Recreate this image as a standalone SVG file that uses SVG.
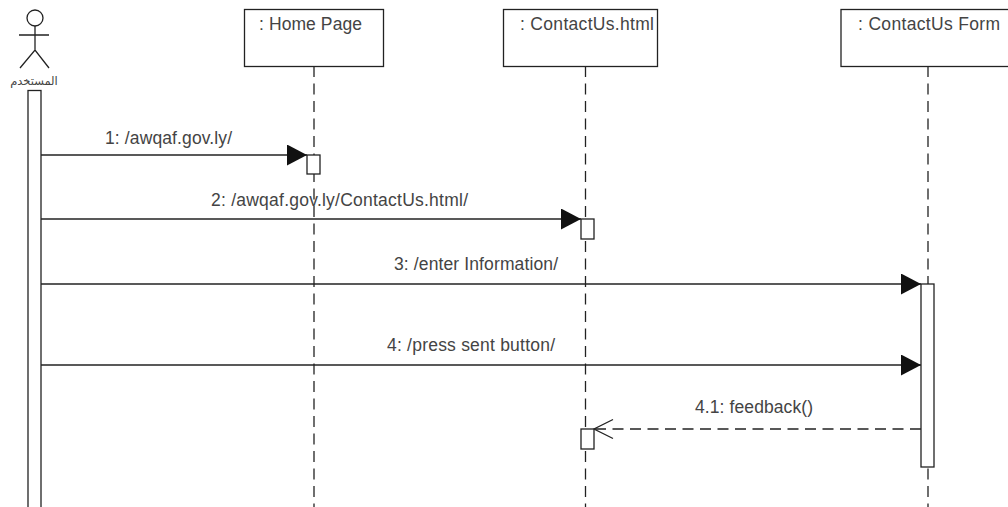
<svg xmlns="http://www.w3.org/2000/svg" width="1008" height="507" viewBox="0 0 1008 507">
<style>
text{font-family:"Liberation Sans",Arial,sans-serif;font-size:17.500px;fill:#444;text-anchor:middle}
.b{fill:#fff;stroke:#222;stroke-width:1.3}
.l{fill:none;stroke:#222;stroke-width:1.3}
.d{fill:none;stroke:#222;stroke-width:1.3;stroke-dasharray:11 6.5}
</style>
<defs>
<marker id="f" markerUnits="userSpaceOnUse" markerWidth="21" markerHeight="22" refX="20" refY="10.5" orient="auto"><path d="M0 0L20 10.5L0 21Z" fill="#111"/></marker>
<marker id="o" markerUnits="userSpaceOnUse" markerWidth="22" markerHeight="22" refX="20" refY="11" orient="auto"><path d="M1 1.500L20 11L1 20.500" fill="none" stroke="#222" stroke-width="1.300"/></marker>
</defs>
<rect width="1008" height="507" fill="#fff"/>
<g id="connectors">
<path class="d" d="M314 66V507"/>
<path class="d" d="M585.500 66V507"/>
<path class="d" d="M928 66V507"/>
<path class="l" d="M41 155H307" marker-end="url(#f)"/>
<path class="l" d="M41 219H581" marker-end="url(#f)"/>
<path class="l" d="M41 284H921" marker-end="url(#f)"/>
<path class="l" d="M41 365H921" marker-end="url(#f)"/>
<path class="d" d="M921 429H594" marker-end="url(#o)"/>
</g>
<g id="actor">
<circle class="l" cx="35" cy="18" r="8"/>
<path class="l" d="M35 26V50M19 35H49M20 68L35 50L49 68"/>
<text x="34" y="85" style="font-size:11.500px;font-family:'DejaVu Sans','Noto Sans',sans-serif">المستخدم</text>
<rect class="b" x="28" y="90.500" width="13" height="425"/>
</g>
<g id="home-page">
<rect class="b" x="244.500" y="9.500" width="139" height="57"/>
<text x="310.500" y="30" textLength="103">: Home Page</text>
<rect class="b" x="307" y="155" width="13" height="19"/>
</g>
<g id="contactus-html">
<rect class="b" x="503.500" y="9.500" width="154" height="57"/>
<text x="587" y="30" textLength="134">: ContactUs.html</text>
<rect class="b" x="581" y="219" width="13" height="20"/>
<rect class="b" x="581" y="429" width="13" height="20"/>
</g>
<g id="contactus-form">
<rect class="b" x="841" y="9.500" width="180" height="57"/>
<text x="929" y="30" textLength="142">: ContactUs Form</text>
<rect class="b" x="921" y="284" width="13" height="183"/>
</g>
<g id="labels">
<text x="168.500" y="144" textLength="127">1: /awqaf.gov.ly/</text>
<text x="339.500" y="206" textLength="257">2: /awqaf.gov.ly/ContactUs.html/</text>
<text x="476" y="270" textLength="164">3: /enter Information/</text>
<text x="471" y="351" textLength="168">4: /press sent button/</text>
<text x="754" y="413" textLength="118">4.1: feedback()</text>
</g>
</svg>
